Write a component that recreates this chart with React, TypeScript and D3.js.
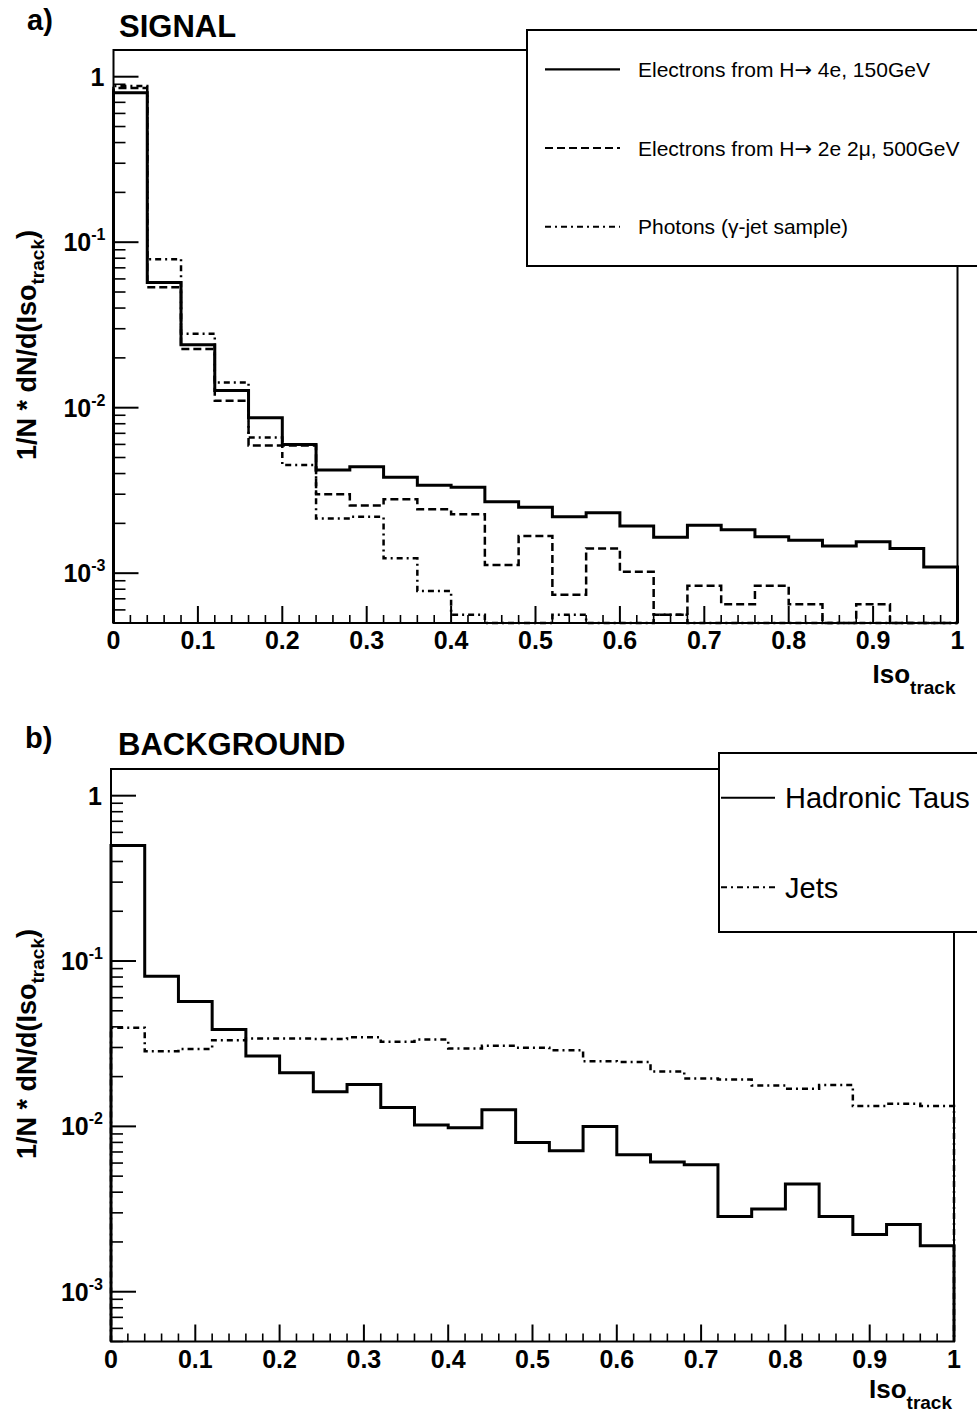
import React from 'react';
import * as d3 from 'd3';

// ---------------- data ----------------
const binLowEdges = [0, 0.04, 0.08, 0.12, 0.16, 0.2, 0.24, 0.28, 0.32, 0.36, 0.4, 0.44, 0.48, 0.52, 0.56, 0.6, 0.64, 0.68, 0.72, 0.76, 0.8, 0.84, 0.88, 0.92, 0.96];
const xDomain = [0, 1];
const yDomain = [5e-4, 1.45];

const xTickLabels = ['0', '0.1', '0.2', '0.3', '0.4', '0.5', '0.6', '0.7', '0.8', '0.9', '1'];
const yTickExponents = [0, -1, -2, -3];

// Signal
const sigH4e = [0.80, 0.057, 0.024, 0.0127, 0.0087, 0.0060, 0.0042, 0.0044, 0.0038, 0.0034, 0.0033, 0.0027, 0.0025, 0.00219, 0.00232, 0.00193, 0.00165, 0.00195, 0.00183, 0.00166, 0.00158, 0.00146, 0.00155, 0.00141, 0.00109];
const sigH2e2mu = [0.855, 0.0535, 0.0226, 0.011, 0.0059, 0.0059, 0.0030, 0.00256, 0.0028, 0.00243, 0.00227, 0.00112, 0.00168, 0.00074, 0.00141, 0.00102, 0.00056, 0.00084, 0.00065, 0.00084, 0.00065, 0, 0.00065, 0, 0];
const sigPhotons = [0.88, 0.079, 0.028, 0.0142, 0.0066, 0.0045, 0.00214, 0.00219, 0.00123, 0.00078, 0.00056, 0, 0, 0.00056, 0, 0, 0.00056, 0, 0, 0, 0, 0, 0, 0, 0];

// Background
const bkgTaus = [0.50, 0.081, 0.057, 0.0386, 0.0266, 0.0211, 0.0162, 0.0179, 0.0130, 0.0102, 0.0098, 0.0126, 0.0080, 0.00713, 0.0100, 0.00673, 0.00608, 0.00586, 0.00285, 0.00317, 0.00448, 0.00285, 0.00222, 0.00255, 0.0019];
const bkgJets = [0.0395, 0.0285, 0.0294, 0.0332, 0.034, 0.034, 0.0338, 0.0346, 0.0325, 0.0335, 0.0296, 0.0307, 0.0299, 0.0289, 0.0248, 0.0245, 0.0215, 0.0195, 0.0192, 0.0177, 0.0169, 0.0178, 0.0133, 0.0137, 0.0133];

// labels split around the arrow so the arrow can use a font with a full-size glyph
const signalLabels = [
  ['Electrons from H', '\u2192', ' 4e, 150GeV'],
  ['Electrons from H', '\u2192', ' 2e 2\u03bc, 500GeV'],
  ['Photons (\u03b3-jet sample)', '', ''],
];
const backgroundLabels = [['Hadronic Taus', '', ''], ['Jets', '', '']];

// ---------------- styling ----------------
const FONT = '"Liberation Sans", Arial, Helvetica, sans-serif';
const ARROW_FONT = '"DejaVu Sans", "Liberation Sans", sans-serif';
const STYLE_SOLID = { width: 3, dash: undefined as string | undefined };
const STYLE_DASHED = { width: 2.5, dash: '8,4' };
const STYLE_DASHDOT = { width: 2.5, dash: '6,4,2,4' };
const STYLE_JETS = { width: 2.5, dash: '6,4,2,4' };

type Series = { values: number[]; style: { width: number; dash?: string }; label: string[] };

type PanelProps = {
  left: number; right: number; top: number; bottom: number;
  series: Series[];
  letter: string; title: string;
  letterPos: [number, number]; titlePos: [number, number];
  yTitleCenter: number;
  xTitleOffset: number;
  legend: { x: number; y: number; w: number; h: number; sx1: number; sx2: number; tx: number; fontSize: number };
};

function histPath(values: number[], x: d3.ScaleLinear<number, number>, y: d3.ScaleLogarithmic<number, number>) {
  const p = d3.path();
  const yMin = yDomain[0];
  p.moveTo(x(binLowEdges[0]), y(yMin));
  values.forEach((v, i) => {
    const hi = i + 1 < binLowEdges.length ? binLowEdges[i + 1] : xDomain[1];
    const yy = y(Math.max(v, yMin));
    p.lineTo(x(binLowEdges[i]), yy);
    p.lineTo(x(hi), yy);
  });
  p.lineTo(x(xDomain[1]), y(yMin));
  return p.toString();
}

function Panel(props: PanelProps) {
  const { left, right, top, bottom, series, legend } = props;
  const x = d3.scaleLinear().domain(xDomain).range([left, right]);
  const y = d3.scaleLog().domain(yDomain).range([bottom, top]).clamp(true);

  const xMajor = xTickLabels.map((t) => +t);
  const xMinor = d3.ticks(0, 1, 50).filter((t) => !xMajor.some((m) => Math.abs(m - t) < 1e-9));
  const yMinor: number[] = [];
  for (let e = -4; e <= 0; e++) {
    for (let m = 2; m <= 9; m++) {
      const v = m * Math.pow(10, e);
      if (v >= yDomain[0] && v <= yDomain[1]) yMinor.push(v);
    }
  }

  const rowH = legend.h / series.length;

  return (
    <g>
      {/* letter & title */}
      <text x={props.letterPos[0]} y={props.letterPos[1]} fontFamily={FONT} fontWeight="bold" fontSize={29}>{props.letter}</text>
      <text x={props.titlePos[0]} y={props.titlePos[1]} fontFamily={FONT} fontWeight="bold" fontSize={31}>{props.title}</text>

      {/* histograms */}
      {series.map((s, i) => (
        <path key={i} d={histPath(s.values, x, y)} fill="none" stroke="#000" strokeWidth={s.style.width}
          strokeDasharray={s.style.dash} strokeLinejoin="miter" strokeLinecap="butt" />
      ))}

      {/* frame */}
      <rect x={left} y={top} width={right - left} height={bottom - top} fill="none" stroke="#000" strokeWidth={2} />

      {/* x ticks */}
      {xMajor.map((t, i) => (
        <line key={'xm' + i} x1={x(t)} x2={x(t)} y1={bottom} y2={bottom - 17} stroke="#000" strokeWidth={2} />
      ))}
      {xMinor.map((t, i) => (
        <line key={'xn' + i} x1={x(t)} x2={x(t)} y1={bottom} y2={bottom - 8} stroke="#000" strokeWidth={1.6} />
      ))}
      {xTickLabels.map((t, i) => (
        <text key={'xl' + i} x={x(+t)} y={bottom + 26} textAnchor="middle" fontFamily={FONT} fontWeight="bold" fontSize={25}>{t}</text>
      ))}
      <text x={right - 2} y={bottom + props.xTitleOffset} textAnchor="end" fontFamily={FONT} fontWeight="bold" fontSize={26}>
        Iso<tspan dy={11} fontSize={19}>track</tspan>
      </text>

      {/* y ticks */}
      {yTickExponents.map((e, i) => (
        <line key={'ym' + i} x1={left} x2={left + 25} y1={y(Math.pow(10, e))} y2={y(Math.pow(10, e))} stroke="#000" strokeWidth={2} />
      ))}
      {yMinor.map((v, i) => (
        <line key={'yn' + i} x1={left} x2={left + 12} y1={y(v)} y2={y(v)} stroke="#000" strokeWidth={1.6} />
      ))}
      {yTickExponents.map((e, i) => (
        e === 0 ? (
          <text key={'yl' + i} x={left - 9} y={y(1)} dy="0.36em" textAnchor="end" fontFamily={FONT} fontWeight="bold" fontSize={25}>1</text>
        ) : (
          <text key={'yl' + i} x={left - 8} y={y(Math.pow(10, e))} dy="0.36em" textAnchor="end" fontFamily={FONT} fontWeight="bold" fontSize={25}>
            10<tspan dy={-11} fontSize={16}>{String(e)}</tspan>
          </text>
        )
      ))}
      <text transform={`translate(36,${props.yTitleCenter}) rotate(-90)`} textAnchor="middle" fontFamily={FONT} fontWeight="bold" fontSize={27}>
        1/N * dN/d(Iso<tspan dy={8} fontSize={19}>track</tspan><tspan dy={-8}>)</tspan>
      </text>

      {/* legend */}
      <rect x={legend.x} y={legend.y} width={legend.w} height={legend.h} fill="#fff" stroke="#000" strokeWidth={2} />
      {series.map((s, i) => {
        const cy = legend.y + rowH * (i + 0.5);
        return (
          <g key={'lg' + i}>
            <line x1={legend.sx1} x2={legend.sx2} y1={cy} y2={cy} stroke="#000" strokeWidth={s.style.width === 3 ? 2.2 : 2}
              strokeDasharray={s.style.dash} />
            <text x={legend.tx} y={cy} dy="0.36em" fontFamily={FONT} fontSize={legend.fontSize}>
              {s.label[0]}
              {s.label[1] ? <tspan fontFamily={ARROW_FONT}>{s.label[1]}</tspan> : null}
              {s.label[2] ? <tspan>{s.label[2]}</tspan> : null}
            </text>
          </g>
        );
      })}
    </g>
  );
}

export default function App() {
  const signalSeries: Series[] = [
    { values: sigH4e, style: STYLE_SOLID, label: signalLabels[0] },
    { values: sigH2e2mu, style: STYLE_DASHED, label: signalLabels[1] },
    { values: sigPhotons, style: STYLE_DASHDOT, label: signalLabels[2] },
  ];
  const backgroundSeries: Series[] = [
    { values: bkgTaus, style: STYLE_SOLID, label: backgroundLabels[0] },
    { values: bkgJets, style: STYLE_JETS, label: backgroundLabels[1] },
  ];
  return (
    <svg width={977} height={1415} style={{ position: 'absolute', left: 0, top: 0, background: '#fff' }}>
      <rect x={0} y={0} width={977} height={1415} fill="#fff" />
      <Panel left={113.5} right={957.5} top={50} bottom={623} series={signalSeries}
        letter="a)" title="SIGNAL" letterPos={[27, 30]} titlePos={[119, 37]} yTitleCenter={345} xTitleOffset={60}
        legend={{ x: 527, y: 30, w: 480, h: 236, sx1: 545, sx2: 620, tx: 638, fontSize: 21 }} />
      <Panel left={111} right={954} top={769} bottom={1341.5} series={backgroundSeries}
        letter="b)" title="BACKGROUND" letterPos={[25, 748]} titlePos={[118, 755]} yTitleCenter={1044} xTitleOffset={56}
        legend={{ x: 719, y: 753, w: 300, h: 179, sx1: 721, sx2: 775, tx: 785, fontSize: 29 }} />
    </svg>
  );
}
